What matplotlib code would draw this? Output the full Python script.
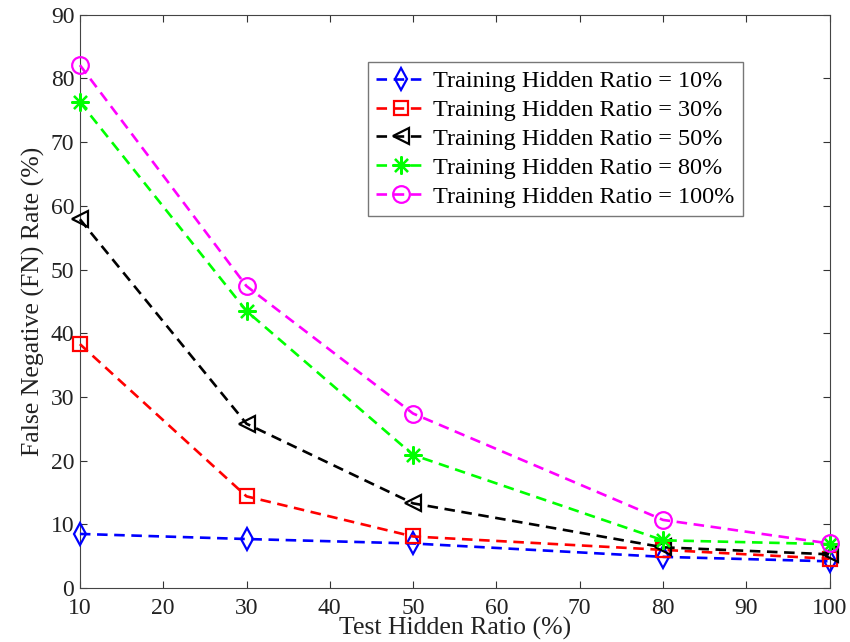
import matplotlib
matplotlib.use("Agg")
import matplotlib.pyplot as plt

plt.rcParams['font.family'] = ['Liberation Serif', 'DejaVu Serif']

test_ratio = [10, 30, 50, 80, 100]
fn_10 = [8.5, 7.7, 7.0, 4.9, 4.2]
fn_30 = [38.3, 14.4, 8.1, 6.0, 4.6]
fn_50 = [57.9, 25.8, 13.3, 6.4, 5.3]
fn_80 = [76.3, 43.5, 20.9, 7.5, 6.9]
fn_100 = [82.1, 47.4, 27.4, 10.7, 7.0]
labels = ["Training Hidden Ratio = 10%", "Training Hidden Ratio = 30%",
          "Training Hidden Ratio = 50%", "Training Hidden Ratio = 80%",
          "Training Hidden Ratio = 100%"]
xticks = [10, 20, 30, 40, 50, 60, 70, 80, 90, 100]
yticks = [0, 10, 20, 30, 40, 50, 60, 70, 80, 90]

fig = plt.figure(figsize=(8.5, 6.42), dpi=100)
ax = fig.add_axes([0.094, 0.084, 0.882, 0.893])

series = [fn_10, fn_30, fn_50, fn_80, fn_100]
colors = ['#0000ff', '#ff0000', '#000000', '#00ff00', '#ff00ff']
markers = ['d', 's', '<', (8, 2, 0), 'o']
msizes = [11, 10, 12, 13, 12]
for ys, c, m, ms, lab in zip(series, colors, markers, msizes, labels):
    ax.plot(test_ratio, ys, linestyle='--', color=c, marker=m, markersize=ms,
            markerfacecolor='none' if m != (8, 2, 0) else c,
            markeredgecolor=c, markeredgewidth=1.6, linewidth=1.9,
            dashes=(4, 2.5), label=lab, clip_on=False, zorder=3)

ax.set_xlim(10, 100)
ax.set_ylim(0, 90)
ax.set_xticks(xticks)
ax.set_yticks(yticks)
ax.tick_params(direction='in', top=True, right=True, labelsize=17, length=5,
               colors='#333333', labelcolor='#222222')
ax.tick_params(axis='x', pad=7)
ax.tick_params(axis='y', pad=4)
ax.set_xlabel("Test Hidden Ratio (%)", fontsize=18.5, labelpad=-1, color='#222222')
ax.set_ylabel("False Negative (FN) Rate (%)", fontsize=18.5, labelpad=4, color='#222222')
for s in ax.spines.values():
    s.set_color('#444444')

leg = ax.legend(loc='upper left', bbox_to_anchor=(0.384, 0.918), fontsize=17.5,
                frameon=True, fancybox=False, edgecolor='#555555',
                handlelength=2.0, handletextpad=0.35, borderpad=0.35,
                labelspacing=0.28, borderaxespad=0)
leg.get_frame().set_linewidth(1.0)

fig.savefig("out.png", dpi=100)
